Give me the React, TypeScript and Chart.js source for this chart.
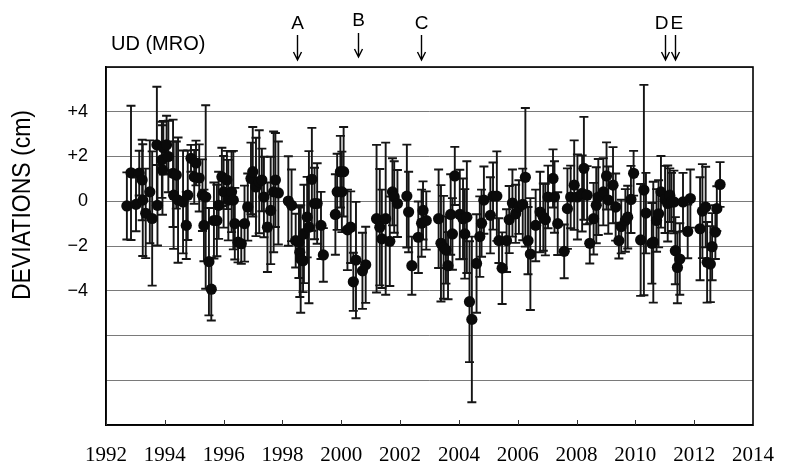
import React, { useEffect, useRef } from "react";
import { Chart, registerables } from "chart.js";

Chart.register(...registerables);

// ---- data ----
const years: number[] = [
  1992.71, 1992.85, 1993.02, 1993.13, 1993.23, 1993.25, 1993.35, 1993.49, 1993.57, 1993.73,
  1993.75, 1993.90, 1993.95, 1994.06, 1994.12, 1993.92, 1994.28, 1994.30, 1994.39, 1994.45,
  1994.62, 1994.73, 1994.78, 1994.89, 1995.00, 1995.06, 1995.17, 1995.28, 1995.39, 1995.33,
  1995.50, 1995.58, 1995.67, 1995.77, 1995.83, 1995.94, 1996.00, 1996.11, 1996.16, 1996.27,
  1996.33, 1996.38, 1996.49, 1996.60, 1996.71, 1996.82, 1996.93, 1996.99, 1997.10, 1997.21,
  1997.30, 1997.37, 1997.49, 1997.60, 1997.70, 1997.76, 1997.86,
  1998.20, 1998.31, 1998.45, 1998.56, 1998.59, 1998.62, 1998.70, 1998.73, 1998.84, 1998.90,
  1999.00, 1999.09, 1999.18, 1999.31, 1999.39, 1999.80, 1999.86, 1999.97, 2000.08, 2000.02,
  2000.21, 2000.32, 2000.41, 2000.50, 2000.72, 2000.83, 2001.20, 2001.31, 2001.38, 2001.51,
  2001.65, 2001.74, 2001.80, 2001.91, 2002.23, 2002.29, 2002.40, 2002.62, 2002.73, 2002.78,
  2002.89, 2003.31, 2003.39, 2003.48, 2003.56, 2003.63, 2003.72, 2003.78, 2003.86, 2004.03,
  2004.14, 2004.20, 2004.27, 2004.36, 2004.44,
  2004.60, 2004.71, 2004.77, 2004.85, 2005.07, 2005.16, 2005.29, 2005.36, 2005.47, 2005.62,
  2005.71, 2005.82, 2005.93, 2006.04, 2006.17, 2006.26, 2006.35, 2006.43, 2006.61, 2006.76,
  2006.87, 2006.94, 2007.03, 2007.20, 2007.25, 2007.36, 2007.58, 2007.69, 2007.80, 2007.92,
  2008.03, 2008.19, 2008.25, 2008.36, 2008.45, 2008.58, 2008.67, 2008.74, 2008.91, 2009.02,
  2009.08, 2009.24, 2009.33, 2009.44, 2009.52, 2009.66, 2009.74, 2009.85, 2009.94, 2010.18,
  2010.29, 2010.36, 2010.56, 2010.61, 2010.72, 2010.79, 2010.87, 2011.01, 2011.10, 2011.17,
  2011.23, 2011.31, 2011.36, 2011.43, 2011.51, 2011.62, 2011.78, 2011.87, 2012.20, 2012.28,
  2012.39, 2012.44, 2012.55, 2012.61, 2012.72, 2012.77, 2012.88,
];

const deviations: number[] = [
  -0.21, 1.27, -0.14, 1.26, 0.95, 0.05, -0.54, 0.42, -0.77, 2.52,
  -0.18, 1.85, 2.39, 2.52, 2.0, 1.4, 1.25, 0.27, 1.17, 0.05,
  -0.03, -1.08, 0.27, 1.92, 1.09, 1.71, 1.04, 0.27, 0.19, -1.08,
  -2.70, -3.93, -0.86, -0.86, -0.18, 1.09, 0.42, 0.95, 0.05, 0.42,
  0.05, -1.0, -1.83, -1.9, -1.0, -0.26, 1.02, 1.32, 0.64, 0.87,
  0.95, 0.19, -1.16, -0.41, 0.42, 0.95, 0.37,
  0.01, -0.18, -1.76, -1.83, -2.28, -2.58, -2.66, -1.46, -0.71, -1.16,
  0.98, -0.10, -0.10, -1.08, -2.4, -0.59, 0.42, 1.32, 1.32, 0.42,
  -1.28, -1.16, -3.60, -2.63, -3.11, -2.84, -0.78, -1.16, -1.68, -0.78,
  -1.79, 0.42, 0.19, -0.10, 0.23, -0.48, -2.88, -1.61, -0.98, -0.41,
  -0.86, -0.78, -1.88, -2.06, -2.18, -2.88, -0.59, -1.46, 1.13, -0.59,
  -0.78, -1.46, -0.71, -4.49, -5.28,
  -2.78, -1.58, -0.98, 0.05, -0.63, 0.23, 0.23, -1.76, -2.99, -1.76,
  -0.82, -0.08, -0.56, -0.26, -0.14, 1.07, -1.76, -2.36, -1.08, -0.48,
  -0.71, -0.82, 0.19, 1.02, 0.19, -1.0, -2.24, -0.33, 0.19, 0.72,
  0.19, 0.35, 1.47, 0.27, -1.88, -0.78, -0.18, 0.19, 0.42, 1.13,
  0.05, 0.72, -0.26, -1.76, -1.13, -0.86, -0.71, 0.08, 1.25, -1.73,
  0.5, -0.53, -1.88, -1.83, -0.86, -0.56, 0.42, 0.08, -0.10, 0.27,
  -0.03, -0.03, -2.21, -2.96, -2.58, -0.03, -1.35, 0.12, -1.23, -0.44,
  -0.26, -2.73, -2.81, -2.03, -1.38, -0.33, 0.75,
];

const errors: number[] = [
  1.5, 3.0, 1.2, 1.0, 1.8, 2.5, 2.0, 2.3, 3.0, 2.6,
  1.8, 1.7, 1.2, 1.3, 1.6, 2.0, 2.4, 2.4, 1.5, 2.8,
  2.3, 1.5, 2.0, 0.6, 1.2, 1.0, 1.5, 1.6, 4.1, 1.6,
  2.4, 1.4, 1.7, 1.6, 1.5, 1.3, 1.6, 1.3, 1.8, 1.8,
  2.2, 1.6, 0.9, 0.9, 1.7, 1.5, 1.6, 2.0, 2.2, 2.3,
  1.4, 1.8, 2.0, 2.4, 2.7, 2.1, 2.3,
  2.0, 1.6, 1.2, 1.6, 2.0, 2.4, 1.4, 2.2, 1.8, 3.4,
  2.3, 1.6, 1.8, 1.5, 1.2, 1.8, 1.7, 1.6, 2.0, 1.8,
  1.8, 1.6, 1.3, 2.6, 1.7, 1.7, 3.3, 2.6, 2.2, 3.4,
  2.0, 1.5, 1.6, 1.5, 2.3, 1.8, 1.3, 1.6, 1.5, 1.3,
  1.3, 2.2, 2.6, 2.3, 1.5, 1.5, 1.8, 1.6, 1.3, 2.0,
  1.8, 2.0, 2.5, 2.7, 3.7,
  2.2, 1.8, 1.5, 1.5, 1.7, 1.5, 2.0, 1.0, 1.6, 1.4,
  1.5, 1.5, 1.3, 1.2, 1.6, 3.1, 1.5, 2.5, 1.6, 1.8,
  1.5, 1.6, 1.4, 1.3, 1.6, 1.4, 1.2, 1.8, 1.4, 2.0,
  1.9, 1.7, 2.3, 1.3, 0.9, 1.6, 1.7, 1.7, 1.5, 1.5,
  1.5, 1.7, 1.5, 0.8, 1.2, 1.4, 1.4, 1.5, 1.0, 2.5,
  4.7, 1.8, 1.8, 2.7, 1.4, 1.5, 1.6, 1.5, 1.7, 1.2,
  1.3, 1.4, 1.5, 1.6, 1.6, 1.3, 1.2, 1.3, 2.3, 2.1,
  1.8, 1.8, 1.7, 1.5, 1.2, 1.0, 1.0,
];

const xTicks: number[] = [1992, 1994, 1996, 1998, 2000, 2002, 2004, 2006, 2008, 2010, 2012, 2014];
const yLabelled: number[] = [-4, -2, 0, 2, 4];

const eventLabels: string[] = ["A", "B", "C", "D", "E"];
const eventYears: number[] = [1998.49, 2000.58, 2002.70, 2011.01, 2011.34];

const chartTitle = "UD (MRO)";
const yTitle = "DEVIATIONS (cm)";

const formatY = (v: number) => (v > 0 ? "+" + v : v < 0 ? "\u2212" + Math.abs(v) : "0");

const errorBarPlugin = {
  id: "errorBars",
  beforeDatasetsDraw(chart: any) {
    const { ctx, scales } = chart;
    const x = scales.x;
    const y = scales.y;
    ctx.save();
    ctx.strokeStyle = "#151515";
    ctx.lineWidth = 1.9;
    for (let i = 0; i < years.length; i++) {
      const px = x.getPixelForValue(years[i]);
      const top = y.getPixelForValue(deviations[i] + errors[i]);
      const bot = y.getPixelForValue(deviations[i] - errors[i]);
      ctx.beginPath();
      ctx.moveTo(px, top);
      ctx.lineTo(px, bot);
      ctx.moveTo(px - 4.5, top);
      ctx.lineTo(px + 4.5, top);
      ctx.moveTo(px - 4.5, bot);
      ctx.lineTo(px + 4.5, bot);
      ctx.stroke();
    }
    ctx.restore();
  },
};

const decorPlugin = {
  id: "decor",
  afterDraw(chart: any) {
    const { ctx, chartArea, scales } = chart;
    const x = scales.x;
    ctx.save();
    // frame
    ctx.strokeStyle = "#000";
    ctx.lineWidth = 1.6;
    ctx.strokeRect(chartArea.left, chartArea.top, chartArea.right - chartArea.left, chartArea.bottom - chartArea.top);
    // inward ticks on bottom axis
    ctx.lineWidth = 1;
    ctx.strokeStyle = "#333";
    for (const t of xTicks) {
      const px = Math.round(x.getPixelForValue(t)) + 0.5;
      ctx.beginPath();
      ctx.moveTo(px, chartArea.bottom);
      ctx.lineTo(px, chartArea.bottom - 5);
      ctx.stroke();
    }
    // title
    ctx.fillStyle = "#000";
    ctx.font = "20px 'Liberation Sans', Arial, sans-serif";
    ctx.textAlign = "left";
    ctx.textBaseline = "middle";
    ctx.fillText(chartTitle, 111, 44);
    // y axis title (condensed, rotated)
    ctx.save();
    ctx.font = "26px 'Liberation Sans', Arial, sans-serif";
    const w = ctx.measureText(yTitle).width;
    ctx.translate(23, 205);
    ctx.rotate(-Math.PI / 2);
    ctx.scale(190 / w, 1);
    ctx.textAlign = "center";
    ctx.textBaseline = "middle";
    ctx.fillText(yTitle, 0, 0);
    ctx.restore();
    // event markers
    ctx.font = "19px 'Liberation Sans', Arial, sans-serif";
    ctx.textBaseline = "middle";
    ctx.lineWidth = 1.4;
    ctx.strokeStyle = "#000";
    for (let i = 0; i < eventLabels.length; i++) {
      const px = Math.round(x.getPixelForValue(eventYears[i])) + 0.5;
      const lab = eventLabels[i];
      if (lab === "D") {
        ctx.textAlign = "right";
        ctx.fillText(lab, px + 3, 24);
      } else if (lab === "E") {
        ctx.textAlign = "left";
        ctx.fillText(lab, px - 5, 24);
      } else {
        ctx.textAlign = "center";
        ctx.fillText(lab, px, lab === "B" ? 21 : 24);
      }
      const y0 = lab === "B" ? 33 : 35;
      const y1 = lab === "B" ? 57 : 60;
      ctx.beginPath();
      ctx.moveTo(px, y0);
      ctx.lineTo(px, y1);
      ctx.moveTo(px - 4, y1 - 8);
      ctx.lineTo(px, y1);
      ctx.lineTo(px + 4, y1 - 8);
      ctx.stroke();
    }
    ctx.restore();
  },
};

export default function App() {
  const ref = useRef<HTMLCanvasElement | null>(null);
  useEffect(() => {
    if (!ref.current) return;
    const pts = years.map((yr, i) => ({ x: yr, y: deviations[i] }));
    const chart = new Chart(ref.current, {
      type: "scatter",
      data: {
        datasets: [
          {
            data: pts,
            pointRadius: 5.6,
            pointHoverRadius: 5.6,
            backgroundColor: "#0a0a0a",
            borderColor: "#0a0a0a",
            borderWidth: 0,
            showLine: false,
          },
        ],
      },
      options: {
        responsive: false,
        animation: false,
        events: [],
        layout: { padding: { top: 67, right: 23, left: 0, bottom: 0 } },
        plugins: { legend: { display: false }, tooltip: { enabled: false }, title: { display: false } },
        scales: {
          x: {
            type: "linear",
            min: 1992,
            max: 2014,
            afterBuildTicks: (scale: any) => {
              scale.ticks = xTicks.map((v) => ({ value: v }));
            },
            afterFit: (scale: any) => {
              scale.height = 38;
            },
            ticks: {
              color: "#000",
              padding: 18,
              maxRotation: 0,
              autoSkip: false,
              font: { family: "'Liberation Serif', 'Times New Roman', serif", size: 21 },
              callback: (v: any) => String(v),
            },
            grid: { display: false, drawTicks: false },
            border: { display: true, color: "#000", width: 1.6 },
          },
          y: {
            type: "linear",
            min: -10,
            max: 6,
            afterFit: (scale: any) => {
              scale.width = 106;
            },
            ticks: {
              stepSize: 2,
              color: "#000",
              padding: 18,
              autoSkip: false,
              font: { family: "'Liberation Sans', Arial, sans-serif", size: 18 },
              callback: (v: any) => (yLabelled.includes(Number(v)) ? formatY(Number(v)) : ""),
            },
            grid: { color: "#7a7a7a", lineWidth: 1, drawTicks: false },
            border: { display: true, color: "#000", width: 1.6 },
          },
        },
      },
      plugins: [errorBarPlugin, decorPlugin],
    });
    return () => chart.destroy();
  }, []);
  return (
    <div style={{ position: "fixed", left: 0, top: 0, width: 792, height: 463, background: "#fff" }}>
      <canvas ref={ref} width={792} height={463} style={{ width: 792, height: 463 }} />
    </div>
  );
}
